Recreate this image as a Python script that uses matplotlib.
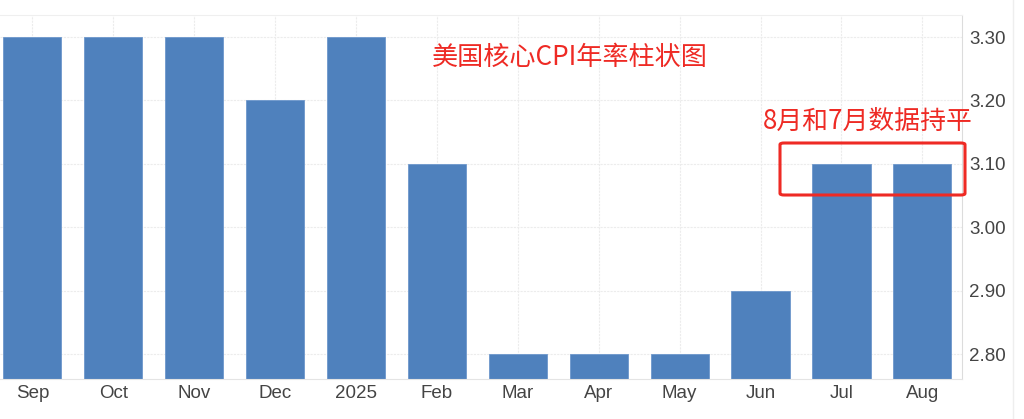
import numpy as np
import matplotlib.pyplot as plt
from matplotlib.patches import FancyBboxPatch

months = ["Sep", "Oct", "Nov", "Dec", "2025", "Feb", "Mar", "Apr", "May", "Jun", "Jul", "Aug"]
core_cpi = [3.3, 3.3, 3.3, 3.2, 3.3, 3.1, 2.8, 2.8, 2.8, 2.9, 3.1, 3.1]
y_ticks = [2.8, 2.9, 3.0, 3.1, 3.2, 3.3]

plt.rcParams['font.family'] = ['Liberation Sans', 'Noto Sans CJK SC', 'DejaVu Sans']

W, H = 1024, 419
fig = plt.figure(figsize=(W / 100, H / 100), dpi=100)
ax = fig.add_axes([0 / W, (H - 379) / H, 962 / W, (379 - 15) / H])

x = np.arange(len(months))
ax.bar(x, core_cpi, width=0.72, color="#4f81bd", edgecolor="#6d97cc", linewidth=0.6, zorder=2)

ax.set_xlim(-0.40, 11.49)
ax.set_ylim(2.7606, 3.3347)

ax.set_xticks(x)
ax.set_xticklabels(months)
ax.set_yticks(y_ticks)
ax.set_yticklabels([f"{v:.2f}" for v in y_ticks])
ax.yaxis.tick_right()
ax.tick_params(axis='both', length=0, labelsize=13.5, colors="#444444")
ax.tick_params(axis='x', pad=4)
ax.tick_params(axis='y', pad=5)
for lbl in ax.get_yticklabels():
    lbl.set_y(lbl.get_position()[1])

ax.grid(True, color="#ececec", linestyle=(0, (2, 1)), linewidth=0.8, zorder=0)

for side in ["top", "left"]:
    ax.spines[side].set_visible(False)
ax.spines["bottom"].set_color("#e4e4e4")
ax.spines["right"].set_color("#dcdcdc")
ax.spines["top"].set_visible(True)
ax.spines["top"].set_color("#efefef")
ax.spines["top"].set_linestyle((0, (2, 1)))

red = "#ee2a24"
fig.text(432 / W, 1 - 57 / H, "美国核心CPI年率柱状图", color=red, fontsize=18.8,
         family=['Noto Sans CJK SC', 'DejaVu Sans'], va='center', ha='left')
fig.text(763 / W, 1 - 121 / H, "8月和7月数据持平", color=red, fontsize=18.6,
         family=['Noto Sans CJK SC', 'DejaVu Sans'], va='center', ha='left')

box = FancyBboxPatch((780 / W, 1 - 195 / H), (965 - 780) / W, (195 - 143) / H,
                     boxstyle="round,pad=0,rounding_size=0.004",
                     transform=fig.transFigure, fill=False, edgecolor=red, linewidth=2.2)
fig.patches.append(box)

# faint screenshot border on the right
fig.add_artist(plt.Line2D([1013 / W, 1013 / W], [0, 1], color="#eeeeee", linewidth=1,
                          transform=fig.transFigure))

fig.savefig("out.png", dpi=100)
